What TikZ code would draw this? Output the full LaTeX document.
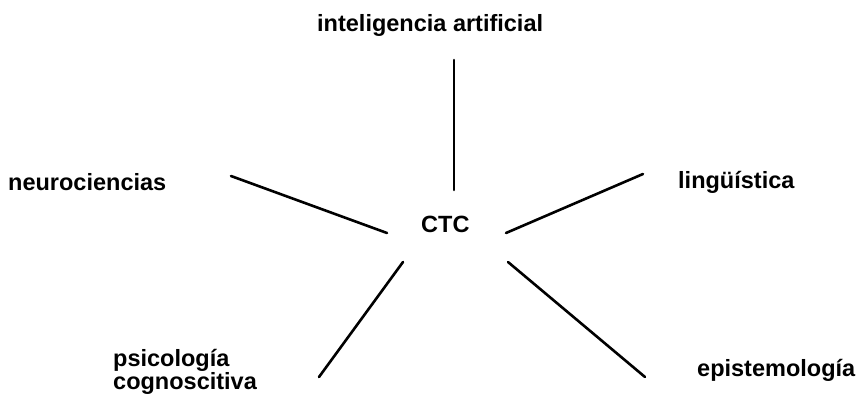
\documentclass[tikz,border=0pt]{standalone}
\usepackage{fontspec}
\setmainfont{Liberation Sans}
\begin{document}
\begin{tikzpicture}[x=1pt,y=-1pt,
  lbl/.style={font=\fontsize{23.5}{23}\selectfont\bfseries, inner sep=0pt, anchor=base west},
  link/.style={line width=2.6pt, line cap=round}]
\useasboundingbox (0,0) rectangle (860,394);
\node[lbl] (ia) at (317,31) {inteligencia artificial};
\node[lbl] (neuro) at (8,190) {neurociencias};
\node[lbl] (ctc) at (421,232) {CTC};
\node[lbl] (ling) at (678,188) {lingüística};
\node[lbl] (psico) at (113,366) {\begin{tabular}[t]{@{}l@{}}psicología\\cognoscitiva\end{tabular}};
\node[lbl] (epi) at (697,376) {epistemología};
\coordinate (a1) at (454,60);  \coordinate (a2) at (454,190);
\coordinate (b1) at (231,176); \coordinate (b2) at (387,233);
\coordinate (c1) at (506,233); \coordinate (c2) at (643,174);
\coordinate (d1) at (403,262); \coordinate (d2) at (319,377);
\coordinate (e1) at (508,262); \coordinate (e2) at (645,377);
\draw[link] (a1) -- (a2);
\draw[link] (b1) -- (b2);
\draw[link] (c1) -- (c2);
\draw[link] (d1) -- (d2);
\draw[link] (e1) -- (e2);
\end{tikzpicture}
\end{document}
